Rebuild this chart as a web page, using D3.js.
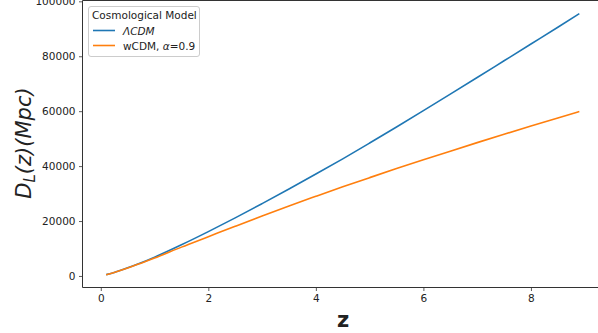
<!DOCTYPE html>
<html>
<head>
<meta charset="utf-8">
<script src="https://cdn.jsdelivr.net/npm/d3@7"></script>
<style>
  html, body { margin: 0; padding: 0; background: #fff; }
  svg { display: block; }
  text { font-family: "DejaVu Sans", sans-serif; fill: #222; }
</style>
</head>
<body>
<svg id="chart" width="598" height="333"></svg>
<script>
// ---- data ----
const redshift = [0.1, 0.25, 0.5, 0.75, 1, 1.5, 2, 2.5, 3, 3.5, 4, 4.5, 5, 5.5, 6, 6.5, 7, 7.5, 8, 8.5, 8.9];
const lcdm = [480, 1300, 2950, 4800, 6850, 11350, 16150, 21150, 26350, 31650, 37100, 42650, 48400, 54250, 60200, 66200, 72250, 78350, 84450, 90550, 95500];
const wcdm = [470, 1280, 2870, 4650, 6500, 10500, 14300, 18100, 21850, 25500, 29000, 32450, 35800, 39100, 42300, 45450, 48550, 51600, 54600, 57550, 59850];
const seriesNames = ["ΛCDM", "wCDM, α=0.9"];
const seriesColors = ["#1f77b4", "#ff7f0e"];
const xTicks = [0, 2, 4, 6, 8];
const yTicks = [0, 20000, 40000, 60000, 80000, 100000];

(function () {
const svg = d3.select("#chart");
const pl = 82.5, pr = 603, pt = 0.5, pb = 287.5;

const x = d3.scaleLinear().domain([-0.34, 9.34]).range([pl, pr]);
const y = d3.scaleLinear().domain([-4200, 100300]).range([pb, pt]);

// series
const series = [lcdm, wcdm];
const line = d3.line()
  .x((d, i) => x(redshift[i]))
  .y(d => y(d))
  .curve(d3.curveMonotoneX);

series.forEach((vals, k) => {
  svg.append("path")
    .datum(vals)
    .attr("d", line)
    .attr("fill", "none")
    .attr("stroke", seriesColors[k])
    .attr("stroke-width", 1.6);
});

// axes
const xAxis = d3.axisBottom(x).tickValues(xTicks).tickSize(3.5).tickPadding(3.5).tickFormat(d3.format("d"));
const yAxis = d3.axisLeft(y).tickValues(yTicks).tickSize(3.5).tickPadding(3.5).tickFormat(d3.format("d"));

const gx = svg.append("g").attr("transform", `translate(0,${pb})`).call(xAxis);
const gy = svg.append("g").attr("transform", `translate(${pl},0)`).call(yAxis);
[gx, gy].forEach(g => {
  g.select(".domain").remove();
  g.selectAll(".tick line").attr("stroke", "#333").attr("stroke-width", 0.8);
  g.selectAll(".tick text").attr("font-size", "10.5px").attr("font-family", "DejaVu Sans, sans-serif").attr("fill", "#222");
});

// spines
svg.append("line").attr("x1", pl).attr("x2", pl).attr("y1", pt).attr("y2", pb).attr("stroke", "#333").attr("stroke-width", 1);
svg.append("line").attr("x1", pl).attr("x2", pr).attr("y1", pb).attr("y2", pb).attr("stroke", "#333").attr("stroke-width", 1);
svg.append("line").attr("x1", pl).attr("x2", pr).attr("y1", pt).attr("y2", pt).attr("stroke", "#333").attr("stroke-width", 1);

// axis labels
svg.append("text")
  .attr("x", 343).attr("y", 327)
  .attr("text-anchor", "middle")
  .attr("font-size", "21px").attr("font-weight", "bold")
  .attr("fill", "#000")
  .text("z");

const yl = svg.append("text")
  .attr("transform", "translate(31,143) rotate(-90)")
  .attr("text-anchor", "middle")
  .attr("font-size", "21px")
  .attr("font-style", "italic")
  .attr("fill", "#000");
yl.append("tspan").text("D");
yl.append("tspan").attr("font-size", "15px").attr("dy", 4).text("L");
yl.append("tspan").attr("dy", -4).text("(z)(Mpc)");

// legend
const lg = svg.append("g");
lg.append("rect")
  .attr("x", 88.5).attr("y", 6.5).attr("width", 111).attr("height", 50)
  .attr("rx", 2.5).attr("fill", "#fff").attr("fill-opacity", 0.8)
  .attr("stroke", "#ccc").attr("stroke-width", 1);
lg.append("text").attr("x", 92).attr("y", 19).attr("font-size", "10.5px").text("Cosmological Model");
seriesNames.forEach((name, k) => {
  const yy = 30.5 + k * 15;
  lg.append("line").attr("x1", 93).attr("x2", 115).attr("y1", yy).attr("y2", yy)
    .attr("stroke", seriesColors[k]).attr("stroke-width", 1.6);
  const t = lg.append("text").attr("x", 123).attr("y", yy + 4).attr("font-size", "10.5px");
  if (k === 0) {
    t.attr("font-style", "italic").text(name);
  } else {
    const parts = name.split("α");
    t.append("tspan").text(parts[0]);
    t.append("tspan").attr("font-style", "italic").text("α");
    t.append("tspan").text(parts[1]);
  }
});
})();
</script>
</body>
</html>
